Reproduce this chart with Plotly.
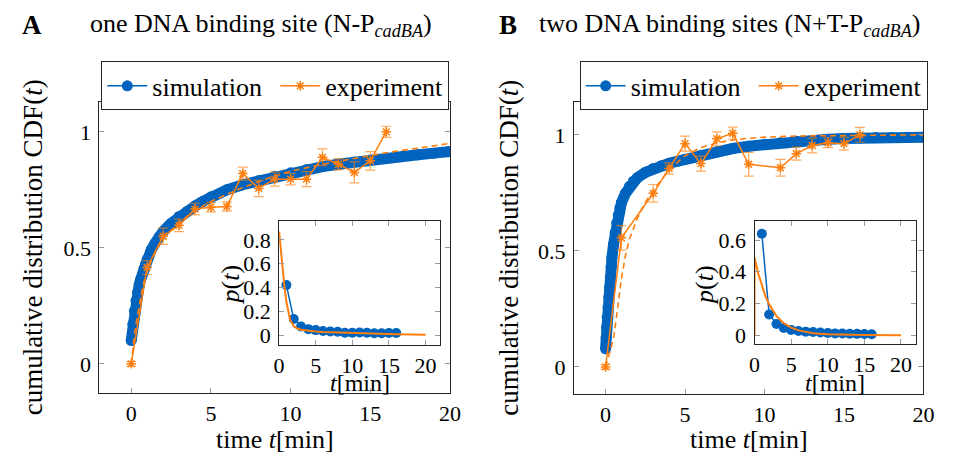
import plotly.graph_objects as go

# ---------------- data: panel A (one DNA binding site) ----------------
simA_t = [0, 0.1, 0.2, 0.3, 0.4, 0.5, 0.6, 0.7, 0.8, 0.9, 1.0, 1.25, 1.5, 1.75, 2, 2.5, 3, 3.5, 4, 4.5, 5,
          6, 7, 8, 9, 10, 11, 12, 13, 14, 15, 16, 17, 18, 19, 20]
simA_cdf = [0.10, 0.17, 0.228, 0.272, 0.31, 0.34, 0.365, 0.387, 0.41, 0.43, 0.45, 0.49, 0.52, 0.548, 0.57,
            0.605, 0.635, 0.657, 0.68, 0.70, 0.72, 0.75, 0.772, 0.79, 0.808, 0.823, 0.837, 0.85, 0.86,
            0.87, 0.878, 0.886, 0.894, 0.901, 0.908, 0.915]
expA_t = [0, 1, 2, 3, 4, 5, 6, 7, 8, 9, 10, 11, 12, 13, 14, 15, 16]
expA_cdf = [0.0, 0.415, 0.55, 0.597, 0.667, 0.675, 0.678, 0.82, 0.756, 0.796, 0.796, 0.796, 0.89, 0.86,
            0.825, 0.875, 1.0]
expA_err = [0.01, 0.03, 0.035, 0.027, 0.025, 0.02, 0.02, 0.028, 0.035, 0.03, 0.025, 0.032, 0.036, 0.024,
            0.045, 0.04, 0.024]
fitA_t = [0, 0.25, 0.5, 0.75, 1, 1.5, 2, 3, 4, 5, 6, 7, 8, 9, 10, 12, 14, 16, 18, 20]
fitA_cdf = [0, 0.15, 0.25, 0.34, 0.40, 0.48, 0.54, 0.61, 0.66, 0.70, 0.73, 0.76, 0.785, 0.81, 0.83, 0.86,
            0.885, 0.91, 0.93, 0.95]
pA_t = [1, 2, 3, 4, 5, 6, 7, 8, 9, 10, 11, 12, 13, 14, 15, 16]
pA = [0.42, 0.135, 0.072, 0.05, 0.042, 0.035, 0.03, 0.028, 0.02, 0.02, 0.022, 0.02, 0.016, 0.015, 0.018, 0.017]
pfitA_t = [0, 0.25, 0.5, 0.75, 1, 1.25, 1.5, 2, 2.5, 3, 4, 5, 6, 8, 10, 12, 14, 16, 18, 20]
pfitA = [0.87, 0.70, 0.55, 0.40, 0.28, 0.19, 0.13, 0.075, 0.055, 0.045, 0.036, 0.031, 0.027, 0.022, 0.018,
         0.015, 0.011, 0.008, 0.005, 0.003]

# ---------------- data: panel B (two DNA binding sites) ----------------
simB_t = [0, 0.03, 0.06, 0.1, 0.15, 0.2, 0.25, 0.3, 0.35, 0.4, 0.5, 0.6, 0.7, 0.8, 0.9, 1.0, 1.25, 1.5, 1.75,
          2, 2.5, 3, 3.5, 4, 4.5, 5, 6, 7, 8, 9, 10, 11, 12, 13, 14, 15, 16, 17, 18, 19, 20]
simB_cdf = [0.078, 0.125, 0.17, 0.214, 0.256, 0.3, 0.34, 0.385, 0.43, 0.47, 0.527, 0.578, 0.62, 0.655, 0.685,
            0.708, 0.748, 0.778, 0.8, 0.815, 0.838, 0.855, 0.867, 0.877, 0.886, 0.895, 0.912, 0.927, 0.941,
            0.951, 0.959, 0.966, 0.972, 0.977, 0.981, 0.984, 0.986, 0.988, 0.989, 0.99, 0.99]
expB_t = [0, 1, 3, 4, 5, 6, 7, 8, 9, 11, 12, 13, 14, 15, 16]
expB_cdf = [0.0, 0.556, 0.748, 0.855, 0.962, 0.876, 0.983, 1.007, 0.873, 0.858, 0.919, 0.954, 0.966, 0.962, 1.0]
expB_err = [0.01, 0.053, 0.038, 0.024, 0.032, 0.032, 0.03, 0.026, 0.051, 0.036, 0.028, 0.032, 0.021, 0.028,
            0.032]
fitB_t = [0, 0.5, 0.75, 1, 1.25, 1.5, 2, 2.5, 3, 4, 5, 6, 7, 8, 9, 10, 12, 14, 16, 18, 20]
fitB_cdf = [0, 0.12, 0.25, 0.38, 0.48, 0.55, 0.64, 0.71, 0.76, 0.85, 0.91, 0.945, 0.965, 0.978, 0.985, 0.99,
            0.995, 0.997, 0.998, 0.999, 1.0]
pB_t = [1, 2, 3, 4, 5, 6, 7, 8, 9, 10, 11, 12, 13, 14, 15, 16]
pB = [0.64, 0.13, 0.07, 0.045, 0.032, 0.026, 0.022, 0.02, 0.016, 0.013, 0.011, 0.01, 0.009, 0.008, 0.007, 0.006]
pfitB_t = [0, 0, 0.5, 1, 1.5, 2, 2.5, 3, 4, 5, 6, 7, 8, 10, 12, 15, 20]
pfitB = [0, 0.49, 0.39, 0.31, 0.245, 0.195, 0.155, 0.12, 0.075, 0.047, 0.03, 0.019, 0.012, 0.005, 0.002,
         0.0005, 0.0]

main_xticks = [0, 5, 10, 15, 20]
main_yticks = [0, 0.5, 1]
inset_xticks = [0, 5, 10, 15, 20]
insetA_yticks = [0, 0.2, 0.4, 0.6, 0.8]
insetB_yticks = [0, 0.2, 0.4, 0.6]

BLUE = "#0064BE"
ORANGE = "#FF7F0E"
ERR = "rgba(255,127,14,0.65)"
FONT = "Liberation Serif, serif"
W, H = 961, 462


def px(x0, x1):
    return [x0 / W, x1 / W]


def py(top, bottom):
    return [1 - bottom / H, 1 - top / H]


fig = go.Figure()


def add_panel(sim_t, sim_c, exp_t, exp_c, exp_e, fit_t, fit_c, p_t, p_v, pf_t, pf_v, xa, ya, xi, yi, legend):
    fig.add_trace(go.Scatter(x=sim_t, y=sim_c, mode="lines", line=dict(color=BLUE, width=11),
                             showlegend=False, xaxis=xa, yaxis=ya, hoverinfo="skip"))
    fig.add_trace(go.Scatter(x=sim_t, y=sim_c, mode="lines+markers", name="simulation",
                             line=dict(color=BLUE, width=1.5), marker=dict(color=BLUE, size=11, symbol="circle"),
                             xaxis=xa, yaxis=ya, legend=legend))
    fig.add_trace(go.Scatter(x=fit_t, y=fit_c, mode="lines", line=dict(color=ORANGE, width=1.6, dash="6px,4px"),
                             showlegend=False, xaxis=xa, yaxis=ya))
    fig.add_trace(go.Scatter(x=exp_t, y=exp_c, mode="lines+markers", name="experiment",
                             line=dict(color=ORANGE, width=1.5),
                             marker=dict(color=ORANGE, size=8, symbol="asterisk-open",
                                         line=dict(color=ORANGE, width=1.5)),
                             error_y=dict(type="data", array=exp_e, visible=True, color=ERR, thickness=1.2, width=5),
                             xaxis=xa, yaxis=ya, legend=legend))
    fig.add_trace(go.Scatter(x=p_t, y=p_v, mode="lines+markers", line=dict(color=BLUE, width=1.5),
                             marker=dict(color=BLUE, size=10), showlegend=False, xaxis=xi, yaxis=yi))
    fig.add_trace(go.Scatter(x=pf_t, y=pf_v, mode="lines", line=dict(color=ORANGE, width=2),
                             showlegend=False, xaxis=xi, yaxis=yi))


add_panel(simA_t, simA_cdf, expA_t, expA_cdf, expA_err, fitA_t, fitA_cdf, pA_t, pA, pfitA_t, pfitA,
          "x", "y", "x3", "y3", "legend")
add_panel(simB_t, simB_cdf, expB_t, expB_cdf, expB_err, fitB_t, fitB_cdf, pB_t, pB, pfitB_t, pfitB,
          "x2", "y2", "x4", "y4", "legend2")

axis_common = dict(showline=True, linecolor="#262626", linewidth=1, mirror="ticks", ticks="inside",
                   ticklen=5, tickcolor="#9a9a9a", tickwidth=1, showgrid=False, zeroline=False,
                   tickfont=dict(family=FONT, size=22, color="black"))

legend_common = dict(orientation="h", yanchor="top", xanchor="left", y=1 - 62 / H,
                     bordercolor="#262626", borderwidth=1, bgcolor="white", entrywidth=118, itemwidth=40,
                     font=dict(family=FONT, size=26, color="black"), itemsizing="trace")

fig.update_layout(
    width=W, height=H, margin=dict(l=0, r=0, t=0, b=0),
    font=dict(family=FONT, size=22, color="black"),
    paper_bgcolor="white", plot_bgcolor="white",
    xaxis=dict(domain=px(95, 452), range=[-2, 20], tickvals=main_xticks, anchor="y",
               ticklabelstandoff=1, **axis_common),
    yaxis=dict(domain=py(103, 396), range=[-0.124, 1.128], tickvals=main_yticks, ticktext=["0", "0.5", "1"],
               anchor="x", ticklabelstandoff=3, **axis_common),
    xaxis2=dict(domain=px(578, 934), range=[-2, 20], tickvals=main_xticks, anchor="y2",
                ticklabelstandoff=1, **axis_common),
    yaxis2=dict(domain=py(103, 397), range=[-0.115, 1.141], tickvals=main_yticks, ticktext=["0", "0.5", "1"],
                anchor="x2", ticklabelstandoff=3, **axis_common),
    xaxis3=dict(domain=px(278, 442), range=[0, 22], tickvals=inset_xticks, anchor="y3",
                ticklabelstandoff=1, **axis_common),
    yaxis3=dict(domain=py(223, 348), range=[-0.083, 0.958], tickvals=insetA_yticks,
                ticktext=["0", "0.2", "0.4", "0.6", "0.8"], anchor="x3", ticklabelstandoff=3, **axis_common),
    xaxis4=dict(domain=px(762, 926), range=[0, 22], tickvals=inset_xticks, anchor="y4",
                ticklabelstandoff=1, **axis_common),
    yaxis4=dict(domain=py(223, 347), range=[-0.056, 0.72], tickvals=insetB_yticks,
                ticktext=["0", "0.2", "0.4", "0.6"], anchor="x4", ticklabelstandoff=3, **axis_common),
    legend=dict(x=97 / W, **legend_common),
    legend2=dict(x=584 / W, **legend_common),
)


def ann(text, x, y, size=26, angle=0):
    fig.add_annotation(text=text, x=x / W, y=1 - y / H, xref="paper", yref="paper", showarrow=False,
                       xanchor="center", yanchor="middle", textangle=angle,
                       font=dict(family=FONT, size=size, color="black"))


ann("<b>A</b>", 26, 25, size=27)
ann("one DNA binding site (N-P<sub><i>cadBA</i></sub>)", 260, 25)
ann("<b>B</b>", 511, 25, size=27)
ann("two DNA binding sites (N+T-P<sub><i>cadBA</i></sub>)", 737, 25)
ann("cumulative distribution CDF(<i>t</i>)", 27, 250, size=27, angle=-90)
ann("cumulative distribution CDF(<i>t</i>)", 512, 250, size=27, angle=-90)
ann("time <i>t</i>[min]", 273.5, 443)
ann("time <i>t</i>[min]", 756, 443)
ann("<i>p</i>(<i>t</i>)", 229, 287, angle=-90)
ann("<i>p</i>(<i>t</i>)", 711, 287, angle=-90)
ann("<i>t</i>[min]", 360, 386, size=24)
ann("<i>t</i>[min]", 844, 386, size=24)

fig.write_html("out.html", config={"displayModeBar": False},
               post_script="document.body.style.margin='0px';document.body.style.overflow='hidden';")
